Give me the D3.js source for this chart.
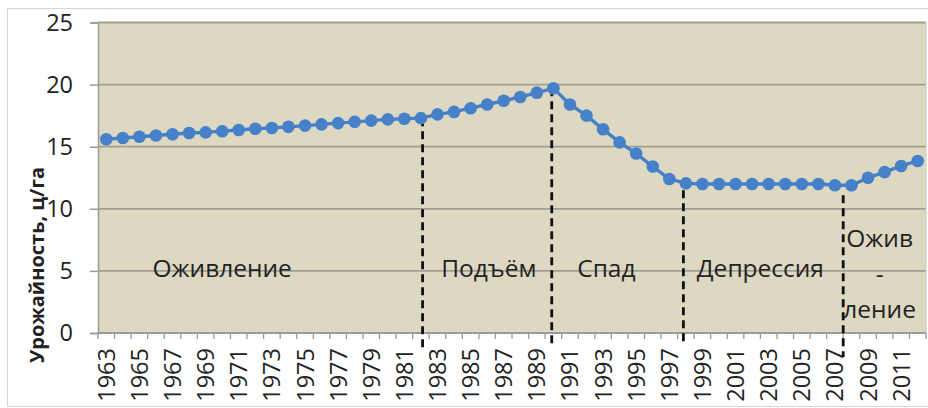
<!DOCTYPE html>
<html>
<head>
<meta charset="utf-8">
<script src="https://cdn.jsdelivr.net/npm/d3@7"></script>
<style>
  html, body { margin: 0; padding: 0; background: #ffffff; }
  svg { display: block; }
  text { font-family: "Open Sans", "Noto Sans", sans-serif; fill: #222; }
</style>
</head>
<body>
<svg id="chart" width="928" height="408"></svg>
<script>
// ---- data ----
const years = [1963,1964,1965,1966,1967,1968,1969,1970,1971,1972,1973,1974,1975,1976,1977,1978,1979,1980,1981,1982,
  1983,1984,1985,1986,1987,1988,1989,1990,1991,1992,1993,1994,1995,1996,1997,1998,1999,2000,2001,2002,
  2003,2004,2005,2006,2007,2008,2009,2010,2011,2012];
const yieldValues = [15.6,15.7,15.8,15.9,16.0,16.1,16.15,16.25,16.35,16.45,16.5,16.6,16.7,16.8,16.9,17.0,17.1,17.2,17.25,17.3,
  17.6,17.8,18.1,18.4,18.7,19.0,19.35,19.7,18.4,17.5,16.4,15.35,14.45,13.4,12.4,12.05,12.0,12.0,12.0,12.0,
  12.0,12.0,12.0,12.0,11.9,11.9,12.5,12.95,13.45,13.85];
const xTickLabels = [1963,1965,1967,1969,1971,1973,1975,1977,1979,1981,1983,1985,1987,1989,1991,1993,1995,1997,1999,2001,2003,2005,2007,2009,2011];
const yTicks = [0,5,10,15,20,25];
const phaseBreaks = [1982.1, 1989.9, 1997.85, 2007.5];   // year position of dashed lines
const phaseBreakTop = [17.3, 19.7, 11.5, 11.1];           // value where each dashed line starts
const phaseNames = [["Оживление"],["Подъём"],["Спад"],["Депрессия"],["Ожив","-","ление"]];
const phaseCenters = [1970.0, 1986.1, 1993.2, 2002.5, 2009.7];
const yTitle = "Урожайность, ц/га";

// ---- layout ----
const svg = d3.select("#chart");
const plot = {left: 98, right: 926, top: 22.5, bottom: 333};

const x = d3.scaleBand().domain(years).range([plot.left, plot.right]).padding(0);
const bw = x.bandwidth();
const xc = yr => x(yr) + bw / 2;
const xf = v => { const f = Math.floor(v); return xc(f) + (v - f) * bw; };
const y = d3.scaleLinear().domain([0, 25]).range([plot.bottom, plot.top]);

// outer chart border
svg.append("rect").attr("x", 7.5).attr("y", 8.5).attr("width", 930).attr("height", 398)
  .attr("fill", "#fff").attr("stroke", "#d6d6d6").attr("stroke-width", 1);

// plot background
svg.append("rect").attr("x", plot.left).attr("y", plot.top)
  .attr("width", plot.right - plot.left).attr("height", plot.bottom - plot.top)
  .attr("fill", "#ddd8c2");

// gridlines + y axis
const yAxis = d3.axisLeft(y).tickValues(yTicks).tickSize(8).tickPadding(17);
const gy = svg.append("g").attr("transform", `translate(${plot.left},0)`).call(yAxis);
gy.select(".domain").attr("stroke", "#9c9a92").attr("stroke-width", 1.5);
gy.selectAll(".tick line").attr("stroke", "#9c9a92").attr("stroke-width", 1.5);
gy.selectAll(".tick text").attr("font-size", 23.5).attr("font-family", "Open Sans").attr("fill", "#2a2a2a");

svg.append("g").selectAll("line").data(yTicks).join("line")
  .attr("x1", plot.left).attr("x2", plot.right)
  .attr("y1", d => y(d)).attr("y2", d => y(d))
  .attr("stroke", "#a19e94").attr("stroke-width", 1.8);

// plot border right
svg.append("line").attr("x1", plot.right).attr("x2", plot.right)
  .attr("y1", plot.top).attr("y2", plot.bottom).attr("stroke", "#c8c5b8").attr("stroke-width", 1);

// x axis: ticks at band boundaries
const boundaries = years.map(yr => x(yr)).concat([plot.right]);
svg.append("g").selectAll("line").data(boundaries).join("line")
  .attr("x1", d => d).attr("x2", d => d)
  .attr("y1", plot.bottom).attr("y2", plot.bottom + 6)
  .attr("stroke", "#9c9a92").attr("stroke-width", 1.3);
svg.append("line").attr("x1", plot.left).attr("x2", plot.right)
  .attr("y1", plot.bottom).attr("y2", plot.bottom)
  .attr("stroke", "#9c9a92").attr("stroke-width", 1.8);

svg.append("g").selectAll("text").data(xTickLabels).join("text")
  .attr("transform", d => `translate(${xc(d) + 8.5},${plot.bottom + 15}) rotate(-90)`)
  .attr("text-anchor", "end")
  .attr("font-size", 23.5).attr("fill", "#2a2a2a")
  .text(d => d);

// y title
svg.append("text")
  .attr("transform", `translate(44,265) rotate(-90)`)
  .attr("text-anchor", "middle")
  .attr("font-size", 20).attr("font-weight", "bold").attr("fill", "#1a1a1a")
  .text(yTitle);

// phase dashed lines
const bottoms = [350, 348, 345, 357];
svg.append("g").selectAll("line").data(phaseBreaks).join("line")
  .attr("x1", d => xf(d)).attr("x2", d => xf(d))
  .attr("y1", (d, i) => y(phaseBreakTop[i])).attr("y2", (d, i) => bottoms[i])
  .attr("stroke", "#111").attr("stroke-width", 2.8).attr("stroke-dasharray", "8,5");

// phase labels
const labelBase = [4.5, 4.5, 4.5, 4.5, 6.9];
phaseNames.forEach((lines, i) => {
  const t = svg.append("text")
    .attr("x", xf(phaseCenters[i])).attr("y", y(labelBase[i]))
    .attr("text-anchor", "middle").attr("font-size", 24.5).attr("fill", "#1e1e1e");
  lines.forEach((ln, j) => {
    t.append("tspan").attr("x", xf(phaseCenters[i])).attr("dy", j === 0 ? 0 : 35.5).text(ln);
  });
});

// series line
const line = d3.line().x((d, i) => xc(years[i])).y(d => y(d));
svg.append("path").datum(yieldValues)
  .attr("d", line).attr("fill", "none").attr("stroke", "#4580c8").attr("stroke-width", 3.4);
svg.append("g").selectAll("circle").data(yieldValues).join("circle")
  .attr("cx", (d, i) => xc(years[i])).attr("cy", d => y(d)).attr("r", 6.3)
  .attr("fill", "#4580c8");
</script>
</body>
</html>
